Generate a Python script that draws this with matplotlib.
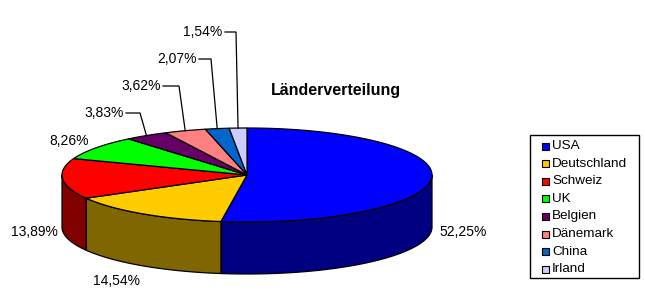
import numpy as np
import matplotlib.pyplot as plt
from matplotlib.patches import Polygon, Rectangle

# data
countries = ["USA", "Deutschland", "Schweiz", "UK", "Belgien", "Dänemark", "China", "Irland"]
shares = [52.25, 14.54, 13.89, 8.26, 3.83, 3.62, 2.07, 1.54]
top_colors = ["#0000FF", "#FFCC00", "#FF0000", "#00FF00", "#660066", "#FF8080", "#0066CC", "#CCCCFF"]
side_colors = ["#000080", "#806600", "#800000", "#008000", "#330033", "#804040", "#003366", "#666680"]
title = "Länderverteilung"

# layout (pixels, y down)
W, H = 645, 298
cx, cy = 247, 175          # centre of the top ellipse
a, b = 185, 47             # semi axes
depth = 52
# label text centre positions; knee = x of the leader bend (None -> no leader)
label_pos = [(463, 232), (117, 281), (34, 232), (69, 141), (104, 113), (141, 86), (177, 59), (203, 32)]
label_knee = [None, None, None, None, 140, 179, 211, 236]

font = ["Liberation Sans", "DejaVu Sans"]


def pt(theta_deg, dz=0.0):
    t = np.radians(theta_deg)
    return cx + a * np.sin(t), cy - b * np.cos(t) + dz


fig = plt.figure(figsize=(W / 100, H / 100), dpi=100)
ax = fig.add_axes([0, 0, 1, 1])
ax.set_xlim(0, W)
ax.set_ylim(H, 0)
ax.axis("off")

total = sum(shares)
bounds = np.concatenate([[0], np.cumsum(shares) / total * 360])

# side walls (front half only: 90..270 deg clockwise from top)
for i in range(len(shares)):
    s, e = max(bounds[i], 90), min(bounds[i + 1], 270)
    if e <= s:
        continue
    th = np.linspace(s, e, 80)
    top = np.array([pt(t) for t in th])
    bot = np.array([pt(t, depth) for t in th])[::-1]
    ax.add_patch(Polygon(np.vstack([top, bot]), closed=True, facecolor=side_colors[i],
                         edgecolor="black", lw=0.9, zorder=1))

# top faces
for i in range(len(shares)):
    th = np.linspace(bounds[i], bounds[i + 1], 120)
    arc = np.array([pt(t) for t in th])
    verts = np.vstack([[cx, cy], arc])
    ax.add_patch(Polygon(verts, closed=True, facecolor=top_colors[i],
                         edgecolor="black", lw=0.9, zorder=2))

# percentage labels
for i, v in enumerate(shares):
    txt = f"{v:.2f}%".replace(".", ",")
    x, y = label_pos[i]
    ax.text(x, y, txt, ha="center", va="center", fontsize=10, family=font, zorder=5)
    if label_knee[i] is not None:
        mid = (bounds[i] + bounds[i + 1]) / 2
        ex, ey = pt(mid)
        x0 = x + 22
        ax.plot([x0, label_knee[i], ex], [y, y, ey], color="black", lw=0.9, zorder=4)

ax.text(336, 90, title, ha="center", va="center", fontsize=11.5, fontweight="bold",
        family=font, zorder=5)

# legend
ax.add_patch(Rectangle((530, 135), 109, 143, facecolor="white", edgecolor="black", lw=1, zorder=3))
for i, name in enumerate(countries):
    y = 146 + i * 17.6
    ax.add_patch(Rectangle((542, y - 3.5), 7, 7, facecolor=top_colors[i], edgecolor="black",
                           lw=0.8, zorder=4))
    ax.text(552, y, name, ha="left", va="center", fontsize=9.7, family=font, zorder=5)

fig.savefig("out.png", dpi=100)
